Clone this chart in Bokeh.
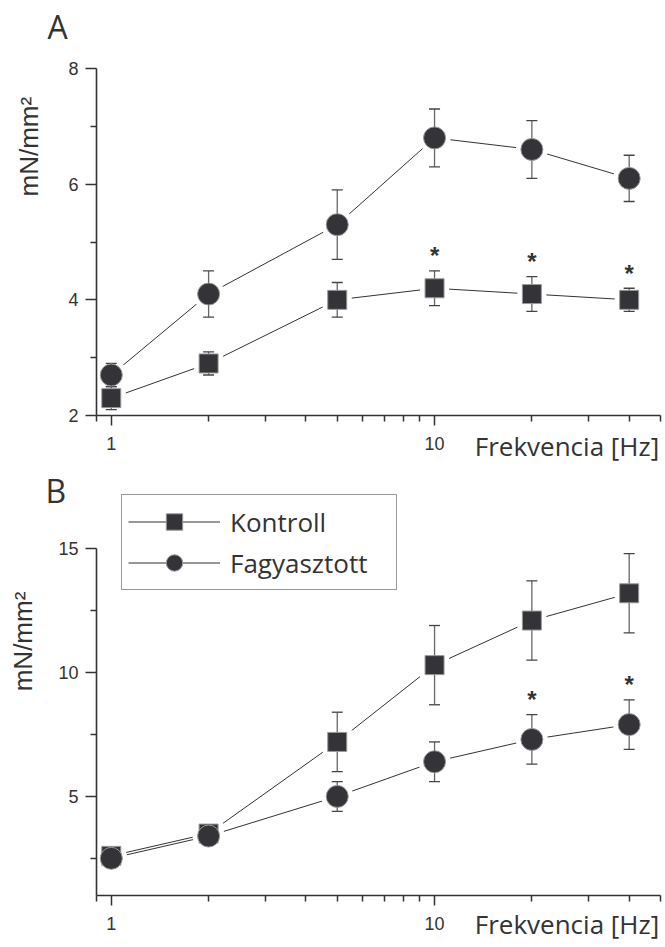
import numpy as np
from bokeh.plotting import figure
from bokeh.models import Range1d, FixedTicker, Legend, LegendItem, PrintfTickFormatter, Title
from bokeh.layouts import column
from bokeh.embed import file_html
from bokeh.resources import INLINE
from bokeh.core.properties import value

# ---------------- data ----------------
freq = [1, 2, 5, 10, 20, 40]

a_kontroll = [2.3, 2.9, 4.0, 4.2, 4.1, 4.0]
a_kontroll_err = [0.2, 0.2, 0.3, 0.3, 0.3, 0.2]
a_fagy = [2.7, 4.1, 5.3, 6.8, 6.6, 6.1]
a_fagy_err = [0.2, 0.4, 0.6, 0.5, 0.5, 0.4]

b_kontroll = [2.6, 3.5, 7.2, 10.3, 12.1, 13.2]
b_kontroll_err = [0.3, 0.3, 1.2, 1.6, 1.6, 1.6]
b_fagy = [2.5, 3.4, 5.0, 6.4, 7.3, 7.9]
b_fagy_err = [0.3, 0.3, 0.6, 0.8, 1.0, 1.0]

a_star_idx = [3, 4, 5]   # significant points on Kontroll (panel A)
b_star_idx = [4, 5]      # significant points on Fagyasztott (panel B)

x_ticks = [1, 10]
x_minor = [0.9, 2, 3, 4, 5, 6, 7, 8, 9, 20, 30, 40, 50]
a_y_ticks = [2, 4, 6, 8]
a_y_minor = [3, 5, 7]
b_y_ticks = [5, 10, 15]
b_y_minor = [2.5, 7.5, 12.5]

labels = ["Kontroll", "Fagyasztott"]
panel_names = ["A", "B"]
x_title = "Frekvencia [Hz]"
y_title = "mN/mm\u00b2"

# ---------------- style ----------------
DARK = "#333333"
MFILL = "#333338"
MLINE = "#9a9a9a"
ERR = "#666666"
CAP = "#444444"
CFONT = "Open Sans"
TFONT = "Liberation Sans"
EM = "\u2003"
EN = "\u2002"
THIRD = "\u2004"


def make_fig(height, left, top, bottom, y0, y1, yticks, yminor, bounds=None):
    p = figure(width=665, height=height, x_axis_type="log",
               x_range=Range1d(0.9, 50), y_range=Range1d(y0, y1),
               output_backend="svg", toolbar_location=None,
               min_border_left=left, min_border_right=5,
               min_border_top=top, min_border_bottom=bottom)
    p.xgrid.visible = False
    p.ygrid.visible = False
    p.outline_line_color = None
    p.background_fill_color = "white"
    p.border_fill_color = "white"
    p.xaxis.ticker = FixedTicker(ticks=x_ticks, minor_ticks=x_minor)
    p.xaxis.formatter = PrintfTickFormatter(format="%d")
    p.yaxis.ticker = FixedTicker(ticks=yticks, minor_ticks=yminor)
    p.yaxis.formatter = PrintfTickFormatter(format="%g")
    if bounds is not None:
        p.yaxis.bounds = bounds
    for ax in (p.xaxis, p.yaxis):
        ax.axis_line_color = DARK
        ax.axis_line_width = 1.6
        ax.major_tick_line_color = DARK
        ax.major_tick_line_width = 1.5
        ax.minor_tick_line_color = DARK
        ax.minor_tick_line_width = 1.5
        ax.major_tick_in = 0
        ax.minor_tick_in = 0
        ax.major_label_text_font = TFONT
        ax.major_label_text_font_size = "18px"
        ax.major_label_text_color = DARK
        ax.axis_label_text_font_style = "normal"
        ax.axis_label_text_color = DARK
    p.xaxis.major_label_standoff = 11
    p.yaxis.major_label_standoff = 7
    p.xaxis.major_tick_out = 10
    p.xaxis.minor_tick_out = 6
    p.yaxis.major_tick_out = 11
    p.yaxis.minor_tick_out = 6
    p.xaxis.axis_label_text_font = CFONT
    p.xaxis.axis_label_text_font_size = "26px"
    p.yaxis.axis_label_text_font = TFONT
    p.yaxis.axis_label_text_font_size = "26px"
    return p


def draw_series(p, sq_vals, sq_err, ci_vals, ci_err, ppu, star_idx, star_on_square):
    # connecting lines
    l_sq = p.line(freq, sq_vals, line_color=DARK, line_width=1)
    l_ci = p.line(freq, ci_vals, line_color=DARK, line_width=1)
    # white gaps around markers (lines stop short of the markers)
    p.scatter(freq, sq_vals, marker="square", size=29, fill_color="white", line_color=None)
    p.scatter(freq, ci_vals, marker="circle", size=32, fill_color="white", line_color=None)
    # error bars
    for vals, err in ((sq_vals, sq_err), (ci_vals, ci_err)):
        lo = [v - e for v, e in zip(vals, err)]
        hi = [v + e for v, e in zip(vals, err)]
        p.segment(x0=freq, y0=lo, x1=freq, y1=hi, line_color=ERR, line_width=1.3)
        p.scatter(freq, lo, marker="dash", size=11, line_color=CAP, line_width=1.3)
        p.scatter(freq, hi, marker="dash", size=11, line_color=CAP, line_width=1.3)
    # markers
    m_sq = p.scatter(freq, sq_vals, marker="square", size=19, fill_color=MFILL,
                     line_color=MLINE, line_width=1)
    m_ci = p.scatter(freq, ci_vals, marker="circle", size=22, fill_color=MFILL,
                     line_color=MLINE, line_width=1)
    # significance stars
    vals, err = (sq_vals, sq_err) if star_on_square else (ci_vals, ci_err)
    sx = [freq[i] for i in star_idx]
    sy = [vals[i] + err[i] + 15.0 / ppu for i in star_idx]
    p.text(x=sx, y=sy, text=["*"] * len(sx), text_font=value(TFONT),
           text_font_style="bold", text_font_size="24px", text_align="center",
           text_baseline="middle", text_color=DARK)
    return (l_sq, m_sq), (l_ci, m_ci)


def panel_title(p, text, offset, standoff):
    p.add_layout(Title(text=text, align="left", offset=offset, standoff=standoff,
                       vertical_align="middle", text_font=CFONT,
                       text_font_size="32px", text_font_style="normal",
                       text_color=DARK), "above")


# ---------------- panel A ----------------
pA = make_fig(469, 96, 68, 54, 2, 8, a_y_ticks, a_y_minor)
ppuA = 347.0 / (8 - 2)
draw_series(pA, a_kontroll, a_kontroll_err, a_fagy, a_fagy_err, ppuA, a_star_idx, True)
# invisible spacer between frame and the panel letter
pA.add_layout(Title(text=EM, text_font_size="2px", standoff=13, text_color="white"), "above")
panel_title(pA, panel_names[0], -49, 6)
pA.xaxis.axis_label = EM * 14 + EN + x_title
pA.xaxis.axis_label_standoff = -25
pA.yaxis.axis_label = EM * 7 + THIRD + y_title
pA.yaxis.axis_label_standoff = 21

# ---------------- panel B ----------------
b_top = 17.31
pB = make_fig(478, 93, 22, 52, 1, b_top, b_y_ticks, b_y_minor, bounds=(1, 15))
ppuB = 404.0 / (b_top - 1)
(bl_sq, bm_sq), (bl_ci, bm_ci) = draw_series(pB, b_kontroll, b_kontroll_err, b_fagy,
                                             b_fagy_err, ppuB, b_star_idx, False)
panel_title(pB, panel_names[1], -51, -42)
pB.xaxis.axis_label = EM * 14 + EN + x_title
pB.xaxis.axis_label_standoff = -27
pB.yaxis.axis_label = EM * 4 + y_title
pB.yaxis.axis_label_standoff = 17

legend = Legend(items=[LegendItem(label=labels[0], renderers=[bl_sq, bm_sq]),
                       LegendItem(label=labels[1], renderers=[bl_ci, bm_ci])],
                location=(25, 305), padding=6, spacing=0, glyph_width=92,
                glyph_height=41, label_standoff=10, label_width=160,
                border_line_color=DARK, border_line_width=1.2,
                background_fill_color="white", background_fill_alpha=1.0,
                label_text_font=CFONT, label_text_font_size="26px",
                label_text_color=DARK, margin=0)
pB.add_layout(legend)

layout = column(pA, pB, spacing=0)
open("out.html", "w").write(file_html(layout, INLINE))
